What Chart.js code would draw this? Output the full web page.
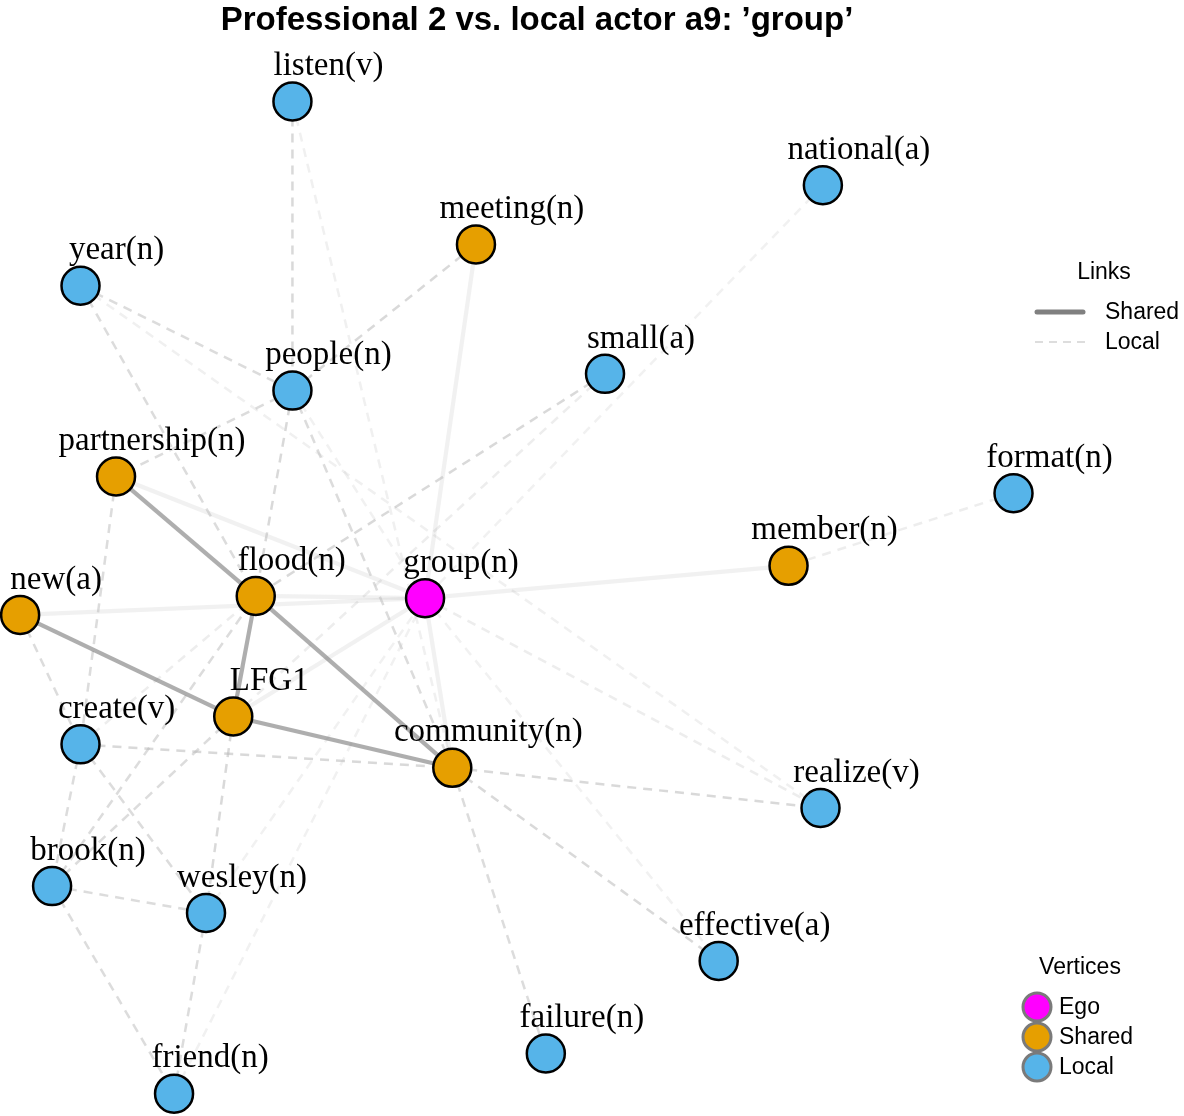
<!DOCTYPE html>
<html>
<head>
<meta charset="utf-8">
<title>Professional 2 vs. local actor a9: 'group'</title>
<script src="https://cdn.jsdelivr.net/npm/chart.js@4.4.1/dist/chart.umd.min.js"></script>
<style>
  html, body { margin: 0; padding: 0; background: #fff; }
  #wrap { width: 1184px; height: 1116px; position: relative; }
</style>
</head>
<body>
<div id="wrap"><canvas id="net"></canvas></div>
<script>
// vertices: layout position in a 0-100 box (y grows downwards) and role
const nodeNames = ['listen(v)', 'national(a)', 'meeting(n)', 'year(n)', 'people(n)', 'small(a)',
  'partnership(n)', 'format(n)', 'member(n)', 'flood(n)', 'group(n)', 'new(a)', 'LFG1',
  'create(v)', 'community(n)', 'realize(v)', 'brook(n)', 'wesley(n)', 'effective(a)',
  'failure(n)', 'friend(n)'];
const nodeX = [24.7, 69.5, 40.2, 6.8, 24.7, 51.1, 9.8, 85.6, 66.6, 21.6, 35.9, 1.7, 19.7,
  6.8, 38.2, 69.3, 4.4, 17.4, 60.7, 46.1, 14.7];
const nodeY = [9.1, 16.6, 21.9, 25.6, 35.0, 33.5, 42.7, 44.2, 50.7, 53.4, 53.6, 55.1, 64.2,
  66.7, 68.8, 72.4, 79.4, 81.8, 86.1, 94.4, 98.0];
const nodeRole = ['local', 'local', 'shared', 'local', 'local', 'local', 'shared', 'local',
  'shared', 'shared', 'ego', 'shared', 'shared', 'local', 'shared', 'local', 'local', 'local',
  'local', 'local', 'local'];

// links: endpoints, type and strength (0-1, how dark the line is)
const linkFrom = [
  'partnership(n)', 'flood(n)', 'flood(n)', 'new(a)', 'LFG1',
  'group(n)', 'group(n)', 'group(n)', 'group(n)', 'group(n)', 'group(n)', 'group(n)',
  'listen(v)', 'year(n)', 'year(n)', 'people(n)', 'people(n)', 'people(n)', 'people(n)',
  'small(a)', 'create(v)', 'community(n)', 'community(n)', 'community(n)', 'new(a)',
  'partnership(n)', 'create(v)', 'create(v)', 'brook(n)', 'brook(n)', 'LFG1', 'brook(n)',
  'brook(n)', 'wesley(n)',
  'listen(v)', 'year(n)', 'national(a)', 'format(n)', 'small(a)', 'group(n)', 'group(n)',
  'friend(n)', 'wesley(n)', 'create(v)', 'people(n)'];
const linkTo = [
  'flood(n)', 'LFG1', 'community(n)', 'LFG1', 'community(n)',
  'meeting(n)', 'member(n)', 'new(a)', 'flood(n)', 'partnership(n)', 'LFG1', 'community(n)',
  'people(n)', 'people(n)', 'flood(n)', 'meeting(n)', 'partnership(n)', 'flood(n)', 'community(n)',
  'flood(n)', 'community(n)', 'realize(v)', 'effective(a)', 'failure(n)', 'create(v)',
  'create(v)', 'brook(n)', 'wesley(n)', 'flood(n)', 'LFG1', 'wesley(n)', 'wesley(n)',
  'friend(n)', 'friend(n)',
  'community(n)', 'realize(v)', 'group(n)', 'member(n)', 'LFG1', 'realize(v)', 'effective(a)',
  'group(n)', 'group(n)', 'flood(n)', 'group(n)'];
const linkType = [
  'shared', 'shared', 'shared', 'shared', 'shared',
  'shared', 'shared', 'shared', 'shared', 'shared', 'shared', 'shared',
  'local', 'local', 'local', 'local', 'local', 'local', 'local',
  'local', 'local', 'local', 'local', 'local', 'local',
  'local', 'local', 'local', 'local', 'local', 'local', 'local',
  'local', 'local',
  'local', 'local', 'local', 'local', 'local', 'local', 'local',
  'local', 'local', 'local', 'local'];
const linkWeight = [
  0.6, 0.6, 0.6, 0.6, 0.6,
  0.1, 0.1, 0.1, 0.1, 0.1, 0.1, 0.1,
  0.55, 0.5, 0.5, 0.55, 0.5, 0.55, 0.5,
  0.55, 0.55, 0.55, 0.55, 0.5, 0.5,
  0.5, 0.5, 0.5, 0.5, 0.5, 0.55, 0.5,
  0.5, 0.5,
  0.22, 0.22, 0.2, 0.25, 0.25, 0.25, 0.2,
  0.2, 0.2, 0.25, 0.2];

const roleColors = { ego: '#FF00FF', shared: '#E69F00', local: '#56B4E9' };

const titleText = 'Professional 2 vs. local actor a9: \u2019group\u2019';

function pos(name) {
  const i = nodeNames.indexOf(name);
  return { x: nodeX[i], y: nodeY[i] };
}

const datasets = [];

linkFrom.forEach((from, i) => {
  const shared = linkType[i] === 'shared';
  const w = linkWeight[i];
  datasets.push({
    data: [pos(from), pos(linkTo[i])],
    showLine: true,
    borderColor: shared ? `rgba(120,120,120,${w})` : `rgba(185,185,185,${w})`,
    borderWidth: shared ? 4.2 : 2.5,
    borderDash: shared ? [] : [9, 7],
    pointRadius: 0,
    pointHoverRadius: 0,
    clip: false,
    order: shared ? (w > 0.3 ? 1 : 3) : (w > 0.3 ? 2 : 4)
  });
});

datasets.push({
  data: nodeNames.map((n, i) => ({ x: nodeX[i], y: nodeY[i] })),
  pointBackgroundColor: nodeRole.map(r => roleColors[r]),
  pointBorderColor: '#000',
  pointBorderWidth: 2.5,
  pointRadius: 19,
  pointHoverRadius: 19,
  clip: false,
  order: 0
});

const textPlugin = {
  id: 'netText',
  afterDatasetsDraw(chart) {
    const ctx = chart.ctx;
    const xs = chart.scales.x, ys = chart.scales.y;
    ctx.save();
    ctx.fillStyle = '#000';

    // vertex labels
    ctx.font = '33px "Liberation Serif", "Times New Roman", serif';
    ctx.textAlign = 'center';
    ctx.textBaseline = 'middle';
    nodeNames.forEach((name, i) => {
      ctx.fillText(name, xs.getPixelForValue(nodeX[i]) + 36, ys.getPixelForValue(nodeY[i]) - 35);
    });

    // title
    ctx.font = 'bold 33px "Liberation Sans", Arial, sans-serif';
    ctx.fillText(titleText, 537, 21);

    // links legend
    ctx.font = '23px "Liberation Sans", Arial, sans-serif';
    ctx.fillText('Links', 1104, 273);
    ctx.textAlign = 'left';
    ctx.fillText('Shared', 1105, 313);
    ctx.fillText('Local', 1105, 343);
    ctx.lineCap = 'round';
    ctx.strokeStyle = '#808080';
    ctx.lineWidth = 5;
    ctx.beginPath(); ctx.moveTo(1037, 312); ctx.lineTo(1083, 312); ctx.stroke();
    ctx.lineCap = 'butt';
    ctx.strokeStyle = '#dddddd';
    ctx.lineWidth = 2;
    ctx.setLineDash([8, 6]);
    ctx.beginPath(); ctx.moveTo(1035, 342); ctx.lineTo(1085, 342); ctx.stroke();
    ctx.setLineDash([]);

    // vertices legend
    ctx.textAlign = 'center';
    ctx.fillText('Vertices', 1080, 968);
    ctx.textAlign = 'left';
    [['Ego', 'ego'], ['Shared', 'shared'], ['Local', 'local']].forEach(([label, role], k) => {
      const y = 1007 + k * 30;
      ctx.beginPath();
      ctx.arc(1037, y, 14, 0, Math.PI * 2);
      ctx.fillStyle = roleColors[role];
      ctx.fill();
      ctx.strokeStyle = '#7a7a7a';
      ctx.lineWidth = 3;
      ctx.stroke();
      ctx.fillStyle = '#000';
      ctx.fillText(label, 1059, y + 1);
    });
    ctx.restore();
  }
};

new Chart(document.getElementById('net').getContext('2d'), {
  type: 'scatter',
  data: { datasets: datasets },
  options: {
    responsive: true,
    maintainAspectRatio: false,
    animation: false,
    events: [],
    layout: { padding: 0, autoPadding: false },
    plugins: { legend: { display: false }, tooltip: { enabled: false } },
    scales: {
      x: { type: 'linear', min: 0, max: 100, display: false },
      y: { type: 'linear', min: 0, max: 100, reverse: true, display: false }
    }
  },
  plugins: [textPlugin]
});
</script>
</body>
</html>
